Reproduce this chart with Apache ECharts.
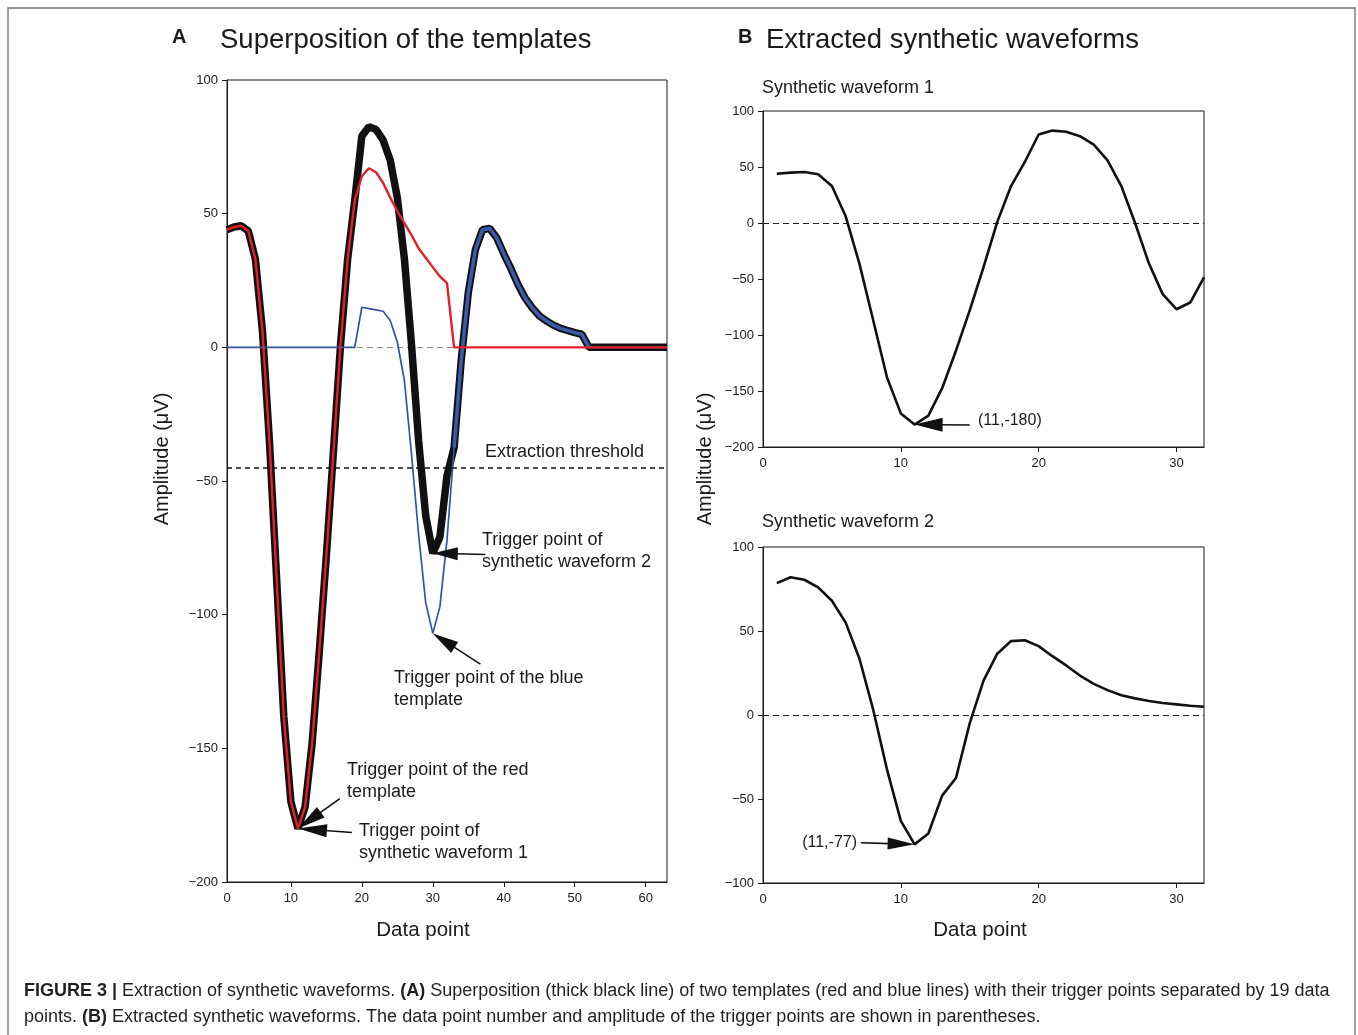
<!DOCTYPE html>
<html><head><meta charset="utf-8">
<script src="https://cdn.jsdelivr.net/npm/echarts@6/dist/echarts.min.js"></script>
<style>html,body{margin:0;padding:0;background:#fff}#c{width:1358px;height:1035px}</style>
</head><body><div id="c"></div>
<script>
// ---- Data ----
// Panel A: data points 1..63
const superposition = [44,45,45.5,43.5,33,6,-36,-87,-138,-170,
  -180,-172,-148,-114,-78,-39,1,33,55,79,
  82.5,81.5,77.5,70,56,33,1,-35,-63,-77,
  -71,-48,-37.5,-5,20.5,36.5,44,44.5,41,35,
  29.5,23.5,18.5,14.8,11.8,9.9,8.3,7.1,6.3,5.5,4.9,
  0,0,0,0,0,0,0,0,0,0,0,0];
const redTemplate = [44,45,45.5,43.5,33,6,-36,-87,-138,-170,
  -180,-172,-148,-114,-78,-39,1,33,55,
  64,67,65.5,61.5,56,51,46.5,42,37,33.5,30,26.5,24,
  0,0,0,0,0,0,0,0,0,0,0,0,0,0,0,0,0,0,0,0,0,0,0,0,0,0,0,0,0,0,0];
const blueTemplate = [0,0,0,0,0,0,0,0,0,0,0,0,0,0,0,0,0,0,0,
  15,14.5,14,13.5,10,2,-12.5,-40,-70,-95.5,-107,-97,-72,-37.5,-5,
  20.5,36.5,44,44.5,41,35,29.5,23.5,18.5,14.8,11.8,9.9,8.3,7.1,6.3,5.5,4.9,
  0,0,0,0,0,0,0,0,0,0,0,0];
const extractionThreshold = -45;
// Panel B: data points 1..32
const wave1 = [44,45,45.5,43.5,33,6,-36.5,-87,-138,-170,
  -180,-172,-147.5,-114,-78,-39.5,1,33,54.5,79,
  82.5,81.5,77.5,70,56,33,0,-36,-63.5,-77,-71,-48.5];
const wave2 = [78.5,82,80.5,76,68,55,33.5,3,-32.5,-63,
  -77,-70.5,-48,-37.5,-5,20.5,36.5,44,44.5,41,
  35,29.5,23.5,18.5,14.8,11.8,9.9,8.3,7.1,6.3,5.5,4.9];
// Tick values
const xTicksA = [10,20,30,40,50,60];
const xTicksB = [10,20,30];
const yTicksStep = 50;

// ---- helpers ----
const xy = (arr, start) => arr.map((v, i) => [i + start, v]);
const FONT = "'Liberation Sans', Arial, Helvetica, sans-serif";
const INK = '#1a1a1a';
const minusFmt = v => String(v).replace('-', '\u2212');
const labelStyle = {color: INK, fontSize: 13, fontFamily: FONT};

function xAxisCfg(gi, min, max, ticks, originLabel) {
  return {
    gridIndex: gi, type: 'value', min: min, max: max,
    axisLine: {show: true, onZero: false, lineStyle: {color: INK, width: 1}},
    axisTick: {show: true, length: 5, lineStyle: {color: INK}, customValues: ticks},
    axisLabel: Object.assign({margin: 10, customValues: [min].concat(ticks),
      formatter: v => (v === min ? originLabel : String(v))}, labelStyle),
    splitLine: {show: false}
  };
}
function yAxisCfg(gi, min, max) {
  return {
    gridIndex: gi, type: 'value', min: min, max: max, interval: yTicksStep,
    axisLine: {show: true, onZero: false, lineStyle: {color: INK, width: 1}},
    axisTick: {show: true, length: 5, lineStyle: {color: INK}},
    axisLabel: Object.assign({margin: 9, formatter: minusFmt}, labelStyle),
    splitLine: {show: false}
  };
}

const chart = echarts.init(document.getElementById('c'), null, {renderer: 'canvas'});

const option = {
  animation: false,
  backgroundColor: '#ffffff',
  grid: [
    {left: 227, top: 80, width: 440, height: 802, show: true, borderColor: INK, borderWidth: 1},
    {left: 763, top: 111, width: 441, height: 336, show: true, borderColor: INK, borderWidth: 1},
    {left: 763, top: 547, width: 441, height: 336, show: true, borderColor: INK, borderWidth: 1}
  ],
  xAxis: [
    xAxisCfg(0, 1, 63, xTicksA, '0'),
    xAxisCfg(1, 0, 32, xTicksB, '0'),
    xAxisCfg(2, 0, 32, xTicksB, '0')
  ],
  yAxis: [
    yAxisCfg(0, -200, 100),
    yAxisCfg(1, -200, 100),
    yAxisCfg(2, -100, 100)
  ],
  series: [
    {
      name: 'Superposition', type: 'line', xAxisIndex: 0, yAxisIndex: 0, z: 2,
      data: xy(superposition, 1), showSymbol: false, symbol: 'none',
      lineStyle: {color: '#111111', width: 7.5, join: 'bevel'},
      markLine: {
        silent: true, symbol: 'none', z: 6, label: {show: false},
        lineStyle: {color: '#111', type: [5, 4], width: 1.5},
        data: [{yAxis: extractionThreshold}]
      }
    },
    {
      name: 'Blue template', type: 'line', xAxisIndex: 0, yAxisIndex: 0, z: 3,
      data: xy(blueTemplate, 1), showSymbol: false, symbol: 'none',
      lineStyle: {color: '#3553a3', width: 1.7},
      markLine: {
        silent: true, symbol: 'none', z: 1, label: {show: false},
        lineStyle: {color: '#8a8a8a', type: [6, 4], width: 1.2},
        data: [{yAxis: 0}]
      }
    },
    {
      name: 'Blue template (overlap)', type: 'line', xAxisIndex: 0, yAxisIndex: 0, z: 4,
      data: xy(blueTemplate.slice(32, 52), 33), showSymbol: false, symbol: 'none',
      lineStyle: {color: '#3b5aa8', width: 3.6}
    },
    {
      name: 'Red template', type: 'line', xAxisIndex: 0, yAxisIndex: 0, z: 5,
      data: xy(redTemplate, 1), showSymbol: false, symbol: 'none',
      lineStyle: {color: '#e3202a', width: 2.4}
    },
    {
      name: 'Synthetic waveform 1', type: 'line', xAxisIndex: 1, yAxisIndex: 1,
      data: xy(wave1, 1), showSymbol: false, symbol: 'none',
      lineStyle: {color: '#111', width: 2.6},
      markLine: {
        silent: true, symbol: 'none', z: 1, label: {show: false},
        lineStyle: {color: '#222', type: [6, 4], width: 1},
        data: [{yAxis: 0}]
      }
    },
    {
      name: 'Synthetic waveform 2', type: 'line', xAxisIndex: 2, yAxisIndex: 2,
      data: xy(wave2, 1), showSymbol: false, symbol: 'none',
      lineStyle: {color: '#111', width: 2.6},
      markLine: {
        silent: true, symbol: 'none', z: 1, label: {show: false},
        lineStyle: {color: '#222', type: [6, 4], width: 1},
        data: [{yAxis: 0}]
      }
    }
  ]
};
chart.setOption(option);

// ---- annotations ----
function txt(x, y, text, size, opts) {
  opts = opts || {};
  return {
    type: 'text', x: x, y: y, rotation: opts.rotation || 0, z: 100,
    style: {
      text: text, fill: opts.fill || INK,
      font: (opts.weight || 'normal') + ' ' + size + 'px ' + FONT,
      textAlign: opts.align || 'left', align: opts.align || 'left',
      textVerticalAlign: opts.valign || 'middle', verticalAlign: opts.valign || 'middle',
      lineHeight: opts.lineHeight || size * 1.2,
      rich: opts.rich
    }
  };
}
function arrow(gi, from, to, headLen, headW) {
  const p0 = chart.convertToPixel({gridIndex: gi}, from);
  const p1 = chart.convertToPixel({gridIndex: gi}, to);
  const dx = p1[0] - p0[0], dy = p1[1] - p0[1];
  const L = Math.sqrt(dx * dx + dy * dy);
  const ux = dx / L, uy = dy / L;
  const bx = p1[0] - ux * headLen, by = p1[1] - uy * headLen;
  const px = -uy * headW / 2, py = ux * headW / 2;
  return [
    {type: 'line', z: 100, shape: {x1: p0[0], y1: p0[1], x2: bx + ux * 2, y2: by + uy * 2},
      style: {stroke: '#111', lineWidth: 1.6}},
    {type: 'polygon', z: 100, shape: {points: [[p1[0], p1[1]], [bx + px, by + py], [bx - px, by - py]]},
      style: {fill: '#111'}}
  ];
}

const capRich = {b: {fontWeight: 'bold', fontSize: 18, fontFamily: FONT, fill: '#231f20'}};
const graphics = [
  // figure frame
  {type: 'rect', z: 0, shape: {x: 8, y: 8, width: 1347, height: 1040},
    style: {fill: 'none', stroke: '#6e6e6e', lineWidth: 1.3}},
  // panel labels & titles
  txt(172, 37, 'A', 20, {weight: 'bold'}),
  txt(220, 40, 'Superposition of the templates', 27.5),
  txt(738, 37, 'B', 20, {weight: 'bold'}),
  txt(766, 40, 'Extracted synthetic waveforms', 27.5),
  txt(762, 88, 'Synthetic waveform 1', 18),
  txt(762, 522, 'Synthetic waveform 2', 18),
  // axis names
  txt(162, 459, 'Amplitude (\u03bcV)', 20, {rotation: Math.PI / 2, align: 'center'}),
  txt(705, 459, 'Amplitude (\u03bcV)', 20, {rotation: Math.PI / 2, align: 'center'}),
  txt(423, 930, 'Data point', 20.5, {align: 'center'}),
  txt(980, 930, 'Data point', 20.5, {align: 'center'}),
  // panel A annotations
  txt(485, 452, 'Extraction threshold', 18),
  txt(482, 529, 'Trigger point of\nsynthetic waveform 2', 18, {valign: 'top', lineHeight: 22}),
  txt(394, 667, 'Trigger point of the blue\ntemplate', 18, {valign: 'top', lineHeight: 22}),
  txt(347, 759, 'Trigger point of the red\ntemplate', 18, {valign: 'top', lineHeight: 22}),
  txt(359, 820, 'Trigger point of\nsynthetic waveform 1', 18, {valign: 'top', lineHeight: 22}),
  // panel B annotations
  txt(978, 421, '(11,-180)', 16),
  txt(857, 843, '(11,-77)', 16, {align: 'right'}),
  // caption
  txt(24, 991, '{b|FIGURE 3 |} Extraction of synthetic waveforms. {b|(A)} Superposition (thick black line) of two templates (red and blue lines) with their trigger points separated by 19 data', 18,
    {fill: '#231f20', rich: capRich}),
  txt(24, 1017, 'points. {b|(B)} Extracted synthetic waveforms. The data point number and amplitude of the trigger points are shown in parentheses.', 18,
    {fill: '#231f20', rich: capRich})
].concat(
  arrow(0, [37.4, -77.5], [30, -77], 25, 13),
  arrow(0, [36.7, -118.5], [30, -107], 26, 13),
  arrow(0, [16.9, -168.8], [11, -180], 28, 13),
  arrow(0, [18.6, -181.5], [11, -180], 29, 13),
  arrow(1, [15.0, -180.3], [11, -180], 28, 14),
  arrow(2, [7.1, -76], [11, -77], 27, 12)
);
chart.setOption({graphic: graphics});
</script></body></html>
